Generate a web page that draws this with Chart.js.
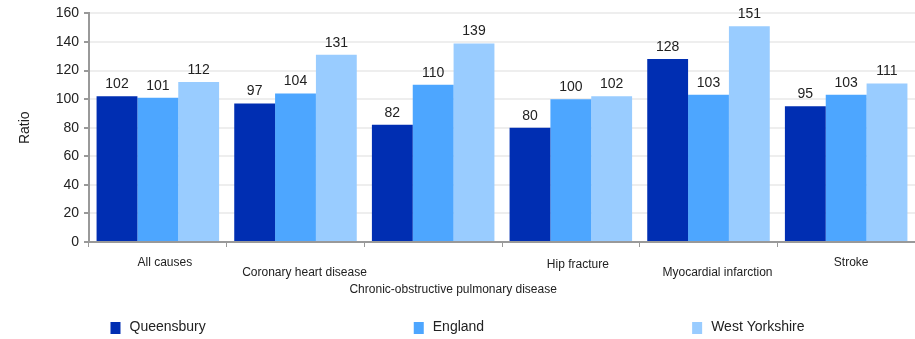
<!DOCTYPE html>
<html>
<head>
<meta charset="utf-8">
<script src="https://cdn.jsdelivr.net/npm/chart.js@4.4.0/dist/chart.umd.min.js"></script>
<style>
  html, body { margin: 0; padding: 0; background: #fff; }
  #wrap { width: 915px; height: 339px; }
</style>
</head>
<body>
<div id="wrap"><canvas id="my_chart"></canvas></div>
<script>
const categories = ["All causes", "Coronary heart disease", "Chronic-obstructive pulmonary disease", "Hip fracture", "Myocardial infarction", "Stroke"];
const queensbury = [102, 97, 82, 80, 128, 95];
const england = [101, 104, 110, 100, 103, 103];
const westYorkshire = [112, 131, 139, 102, 151, 111];
const yTicks = [0, 20, 40, 60, 80, 100, 120, 140, 160];

// label placement (dx, dy from category centre / axis line), staggered like the original
const labelShift = [[7, 21], [9, 31], [20, 48], [7, 23], [9, 31], [5, 21]];

const FONT = "'Liberation Sans', Arial, sans-serif";

const extras = {
  id: "extras",
  afterDatasetsDraw(chart) {
    const c = chart.ctx;
    c.save();
    // value labels
    c.font = "14px " + FONT;
    c.fillStyle = "#222";
    c.textAlign = "center";
    c.textBaseline = "alphabetic";
    chart.data.datasets.forEach((ds, i) => {
      chart.getDatasetMeta(i).data.forEach((bar, j) => {
        c.fillText(ds.data[j], bar.x, bar.y - 8);
      });
    });
    // category labels
    const x = chart.scales.x;
    c.font = "12px " + FONT;
    c.textBaseline = "middle";
    categories.forEach((lab, j) => {
      c.fillText(lab, x.getPixelForValue(j) + labelShift[j][0], x.top + labelShift[j][1]);
    });
    // legend
    c.font = "14px " + FONT;
    c.textAlign = "left";
    const gap = 208;
    const items = chart.data.datasets.map(ds => ({ ds, w: 19 + c.measureText(ds.label).width }));
    const total = items.reduce((s, it) => s + it.w, 0) + gap * (items.length - 1);
    let lx = (chart.width - total) / 2;
    const ly = 327;
    items.forEach(it => {
      c.fillStyle = it.ds.backgroundColor;
      c.fillRect(lx, ly - 5, 10, 12);
      c.fillStyle = "#222";
      c.fillText(it.ds.label, lx + 19, ly);
      lx += it.w + gap;
    });
    c.restore();
  }
};

new Chart(document.getElementById("my_chart"), {
  type: "bar",
  data: {
    labels: categories,
    datasets: [
      { label: "Queensbury", data: queensbury, backgroundColor: "rgb(0,46,178)" },
      { label: "England", data: england, backgroundColor: "rgb(77,166,255)" },
      { label: "West Yorkshire", data: westYorkshire, backgroundColor: "rgb(153,204,255)" },
    ],
  },
  options: {
    responsive: true,
    maintainAspectRatio: false,
    animation: false,
    layout: { padding: { top: 12, right: 0, bottom: 0, left: 0 } },
    datasets: { bar: { categoryPercentage: 0.89, barPercentage: 1.0, borderWidth: 0 } },
    plugins: { legend: { display: false }, tooltip: { enabled: false } },
    scales: {
      x: {
        grid: { offset: true, drawOnChartArea: false, tickLength: 5, color: "#999", tickColor: "#999" },
        border: { color: "#999", width: 2 },
        ticks: { display: false },
        afterFit(scale) { scale.height = 97; },
      },
      y: {
        min: 0,
        max: 160,
        afterBuildTicks(scale) { scale.ticks = yTicks.map(v => ({ value: v })); },
        grid: { color: "#eeeeee", lineWidth: 2, tickColor: "#999", tickLength: 5 },
        border: { color: "#999", width: 2 },
        ticks: { color: "#222", font: { family: FONT, size: 14 }, padding: 5 },
        title: { display: true, text: "Ratio", color: "#222", font: { family: FONT, size: 14 }, padding: { top: 17, bottom: 0 } },
        afterFit(scale) { scale.width = 89; },
      },
    },
  },
  plugins: [extras],
});
</script>
</body>
</html>
